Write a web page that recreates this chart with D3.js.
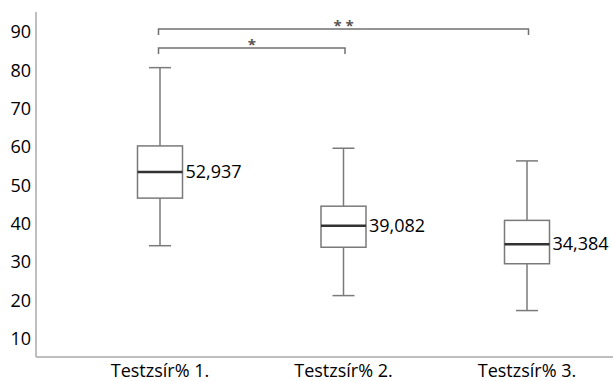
<!DOCTYPE html>
<html>
<head>
<meta charset="utf-8">
<script src="https://cdn.jsdelivr.net/npm/d3@7"></script>
<style>
  body { margin: 0; background: #fff; }
  text { font-family: "Open Sans", sans-serif; fill: #000; }
</style>
</head>
<body>
<svg id="chart"></svg>
<script>
// categories and box statistics
var categories = ["Testzsír% 1.", "Testzsír% 2.", "Testzsír% 3."];
var whiskerLow  = [34.3, 21.3, 17.4];
var q1          = [46.7, 33.9, 29.6];
var median      = [53.5, 39.5, 34.7];
var q3          = [60.3, 44.6, 40.9];
var whiskerHigh = [80.7, 59.7, 56.4];
var valueLabels = ["52,937", "39,082", "34,384"];
var yTicks = [10, 20, 30, 40, 50, 60, 70, 80, 90];

// significance brackets (from / to category index, level, label)
var brackets = [
  {from: 0, to: 1, level: 85.8, label: "*"},
  {from: 0, to: 2, level: 90.8, label: "* *"}
];

var W = 613, H = 381;
var svg = d3.select("#chart").attr("width", W).attr("height", H);

var y = d3.scaleLinear().domain([5.3, 95.2]).range([357, 12]);
var x = d3.scalePoint().domain(categories).range([160, 527]);
var boxW = 45, capW = 22;

// axes
svg.append("line")
  .attr("x1", 36).attr("x2", 36)
  .attr("y1", y.range()[1]).attr("y2", y.range()[0])
  .style("stroke", "#a8a8a8").style("stroke-width", 1.5);
svg.append("line")
  .attr("x1", 36).attr("x2", W)
  .attr("y1", y.range()[0]).attr("y2", y.range()[0])
  .style("stroke", "#a8a8a8").style("stroke-width", 1.5);

var yAxis = svg.append("g")
  .attr("transform", "translate(36,0)")
  .call(d3.axisLeft(y).tickValues(yTicks).tickSize(0).tickPadding(5));
yAxis.select(".domain").remove();
yAxis.selectAll("text")
  .style("font-size", "18px")
  .style("font-family", "'Open Sans', sans-serif")
  .attr("fill", "#000");

svg.selectAll(".catLabel")
  .data(categories)
  .enter().append("text")
    .attr("class", "catLabel")
    .attr("x", function(d) { return x(d); })
    .attr("y", 377)
    .attr("text-anchor", "middle")
    .style("font-size", "18px")
    .text(function(d) { return d; });

/*
 *    B O X E S
 */
var boxes = svg.selectAll(".box")
  .data(categories)
  .enter().append("g")
    .attr("class", "box");

var grey = "#7a7a7a";

boxes.append("line")  // whisker
  .attr("x1", function(d) { return x(d); })
  .attr("x2", function(d) { return x(d); })
  .attr("y1", function(d, i) { return y(whiskerHigh[i]); })
  .attr("y2", function(d, i) { return y(whiskerLow[i]); })
  .style("stroke", grey).style("stroke-width", 1.5);

[whiskerHigh, whiskerLow].forEach(function(arr) {
  boxes.append("line")  // caps
    .attr("x1", function(d) { return x(d) - capW / 2; })
    .attr("x2", function(d) { return x(d) + capW / 2; })
    .attr("y1", function(d, i) { return y(arr[i]); })
    .attr("y2", function(d, i) { return y(arr[i]); })
    .style("stroke", grey).style("stroke-width", 1.5);
});

boxes.append("rect")
  .attr("x", function(d) { return x(d) - boxW / 2; })
  .attr("y", function(d, i) { return y(q3[i]); })
  .attr("width", boxW)
  .attr("height", function(d, i) { return y(q1[i]) - y(q3[i]); })
  .style("fill", "#fff")
  .style("stroke", grey).style("stroke-width", 1.5);

boxes.append("line")  // median
  .attr("x1", function(d) { return x(d) - boxW / 2; })
  .attr("x2", function(d) { return x(d) + boxW / 2; })
  .attr("y1", function(d, i) { return y(median[i]); })
  .attr("y2", function(d, i) { return y(median[i]); })
  .style("stroke", "#333").style("stroke-width", 2.5);

boxes.append("text")
  .attr("x", function(d) { return x(d) + boxW / 2 + 3; })
  .attr("y", function(d, i) { return y(median[i]); })
  .attr("dy", "0.35em")
  .style("font-size", "18px")
  .text(function(d, i) { return valueLabels[i]; });

/*
 *    B R A C K E T S
 */
var br = svg.selectAll(".bracket")
  .data(brackets)
  .enter().append("g")
    .attr("class", "bracket");

br.append("path")
  .attr("d", function(d) {
    var x1 = x(categories[d.from]) - 1.5, x2 = x(categories[d.to]) + 1.5, yy = y(d.level);
    return "M" + x1 + "," + (yy + 6) + "V" + yy + "H" + x2 + "V" + (yy + 6);
  })
  .style("fill", "none")
  .style("stroke", "#707070").style("stroke-width", 1.5);

br.append("text")
  .attr("x", function(d) { return (x(categories[d.from]) + x(categories[d.to])) / 2; })
  .attr("y", function(d) { return y(d.level) + 2; })
  .attr("text-anchor", "middle")
  .style("font-size", "15px")
  .style("font-weight", "bold")
  .style("fill", "#555")
  .text(function(d) { return d.label; });
</script>
</body>
</html>
